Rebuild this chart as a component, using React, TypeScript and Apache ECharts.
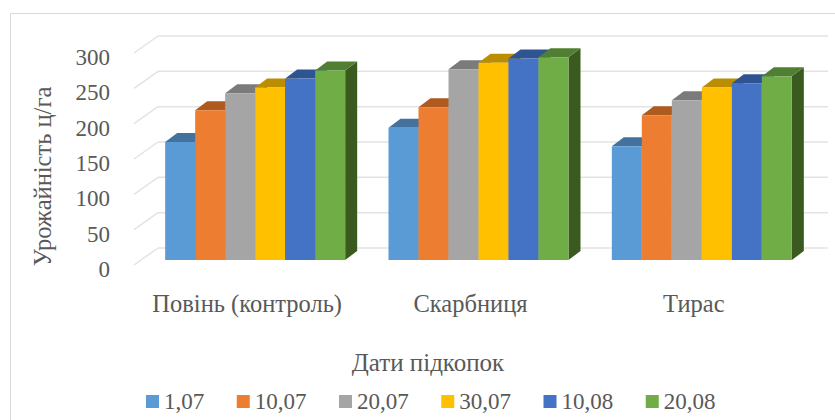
import React, { useEffect, useRef } from "react";
import * as echarts from "echarts";

const categories = ["Повінь (контроль)", "Скарбниця", "Тирас"];
const seriesNames = ["1,07", "10,07", "20,07", "30,07", "10,08", "20,08"];
const v107 = [167, 187, 161];
const v1007 = [212, 216, 205];
const v2007 = [236, 270, 226];
const v3007 = [244, 279, 244];
const v1008 = [257, 285, 250];
const v2008 = [268, 287, 260];
const allValues = [v107, v1007, v2007, v3007, v1008, v2008];
const frontColors = ["#5B9BD5", "#ED7D31", "#A5A5A5", "#FFC000", "#4472C4", "#70AD47"];
const topColors = ["#43729E", "#AF5A1F", "#7B7B7B", "#BB8D00", "#2F5492", "#507E32"];
const sideColors = ["#2F5170", "#7C4016", "#585858", "#856400", "#213B68", "#3A5A20"];
const yTicks = [0, 50, 100, 150, 200, 250, 300];

const WALL_DX = 24;
const WALL_DY = -17;
const BAR_SHIFT_X = 9.5;
const BAR_SHIFT_Y = -5;
const DEPTH_X = 12;
const DEPTH_Y = -9;
const GROUP_FRACTION = 0.806;
const TEXT = "#595959";
const FONT = "'Liberation Serif', 'Times New Roman', serif";
const TICK_SIZE = 23;
const LABEL_SIZE = 24.5;

function renderBar(idx: number) {
  return (params: any, api: any) => {
    const catIdx = api.value(0);
    const val = api.value(1);
    const [cx, y0Raw] = api.coord([catIdx, 0]);
    const yTopRaw = api.coord([catIdx, val])[1];
    const catW = api.size([1, 0])[0];
    const w = (catW * GROUP_FRACTION) / seriesNames.length;
    const x0 = cx + BAR_SHIFT_X - (w * seriesNames.length) / 2 + w * idx;
    const x1 = x0 + w;
    const yb = y0Raw + BAR_SHIFT_Y;
    const yt = yTopRaw + BAR_SHIFT_Y;
    return {
      type: "group",
      children: [
        {
          type: "polygon",
          shape: { points: [[x1, yb], [x1 + DEPTH_X, yb + DEPTH_Y], [x1 + DEPTH_X, yt + DEPTH_Y], [x1, yt]] },
          style: { fill: sideColors[idx] },
        },
        {
          type: "polygon",
          shape: { points: [[x0, yt], [x1, yt], [x1 + DEPTH_X, yt + DEPTH_Y], [x0 + DEPTH_X, yt + DEPTH_Y]] },
          style: { fill: topColors[idx] },
        },
        {
          type: "rect",
          shape: { x: x0, y: yt, width: w, height: yb - yt },
          style: { fill: frontColors[idx] },
        },
      ],
    };
  };
}

function renderGrid(params: any, api: any) {
  const val = api.value(0);
  const pLeft = api.coord([0, val]);
  const size = api.size([1, 0])[0];
  const left = pLeft[0] - size / 2;
  const right = left + size * categories.length;
  const y = pLeft[1];
  const lineStyle = { stroke: "#E3E3E3", lineWidth: 1.5, fill: "none" };
  return {
    type: "group",
    children: [
      { type: "line", shape: { x1: left, y1: y, x2: left + WALL_DX, y2: y + WALL_DY }, style: lineStyle },
      { type: "line", shape: { x1: left + WALL_DX, y1: y + WALL_DY, x2: right + WALL_DX, y2: y + WALL_DY }, style: lineStyle },
    ],
  };
}

export default function App() {
  const ref = useRef<HTMLDivElement>(null);
  useEffect(() => {
    if (!ref.current) return;
    const chart = echarts.init(ref.current, undefined, { renderer: "svg" });
    chart.setOption({
      animation: false,
      backgroundColor: "#fff",
      title: {
        text: "Дати підкопок",
        left: 423,
        top: 345,
        textAlign: "center",
        textStyle: { color: TEXT, fontFamily: FONT, fontSize: 25, fontWeight: "normal" },
      },
      legend: {
        left: 138,
        top: 390,
        padding: [0, 0, 0, 8],
        icon: "rect",
        itemWidth: 13,
        itemHeight: 13,
        itemGap: 32.5,
        data: seriesNames,
        textStyle: { color: TEXT, fontFamily: FONT, fontSize: TICK_SIZE },
      },
      grid: { left: 134, top: 53, width: 670, height: 212, containLabel: false },
      xAxis: {
        type: "category",
        data: categories,
        axisLine: { show: false },
        axisTick: { show: false },
        axisLabel: { color: TEXT, fontFamily: FONT, fontSize: LABEL_SIZE, margin: 26, interval: 0, padding: [0, 0, 0, 3] },
      },
      yAxis: {
        type: "value",
        min: 0,
        max: 300,
        interval: 50,
        name: "Урожайність ц/га",
        nameLocation: "middle",
        nameRotate: 90,
        nameGap: 79,
        nameTextStyle: { color: TEXT, fontFamily: FONT, fontSize: LABEL_SIZE, padding: [0, 35, 0, 0] },
        axisLine: { show: false },
        axisTick: { show: false },
        splitLine: { show: false },
        axisLabel: { color: TEXT, fontFamily: FONT, fontSize: TICK_SIZE, margin: 24, verticalAlign: "top", lineHeight: 9 },
      },
      graphic: [
        { type: "line", shape: { x1: 10.5, y1: 13.5, x2: 835, y2: 13.5 }, style: { stroke: "#D9D9D9", lineWidth: 1 } },
        { type: "line", shape: { x1: 10.5, y1: 13.5, x2: 10.5, y2: 420 }, style: { stroke: "#D9D9D9", lineWidth: 1 } },
      ],
      series: [
        {
          type: "custom",
          name: "grid",
          silent: true,
          renderItem: renderGrid,
          data: yTicks.map((t) => [t]),
          encode: { y: 0 },
          clip: false,
          z: 1,
        },
        ...seriesNames.map((name, i) => ({
          type: "custom",
          name,
          renderItem: renderBar(i),
          data: allValues[i].map((v, c) => [c, v]),
          encode: { x: 0, y: 1 },
          itemStyle: { color: frontColors[i] },
          clip: false,
          z: 2 + i,
        })),
      ],
    });
    return () => chart.dispose();
  }, []);
  return <div ref={ref} style={{ width: 835, height: 420, position: "absolute", left: 0, top: 0 }} />;
}
